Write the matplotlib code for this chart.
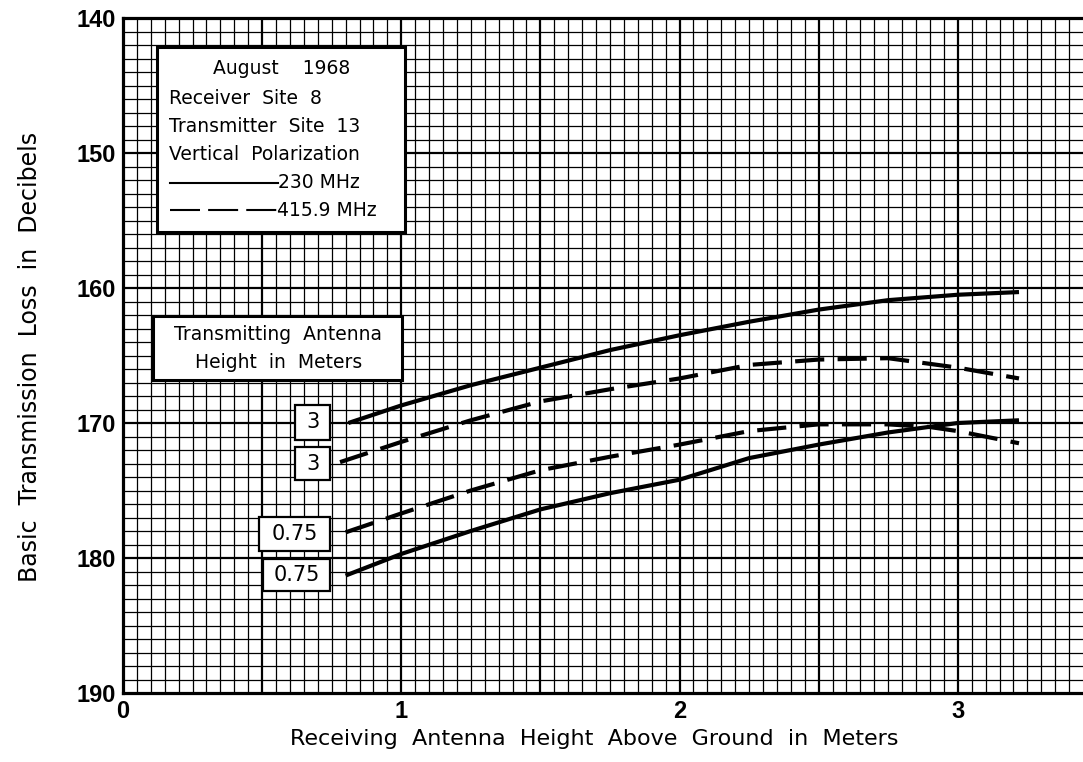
import matplotlib.pyplot as plt
import numpy as np

# Receiving antenna height (m) and basic transmission loss (dB)
x_230_3 = [0.81, 1.0, 1.25, 1.5, 1.75, 2.0, 2.25, 2.5, 2.75, 3.0, 3.22]
y_230_3 = [170.0, 168.7, 167.2, 165.9, 164.6, 163.5, 162.5, 161.6, 160.9, 160.5, 160.3]

x_416_3 = [0.78, 1.0, 1.25, 1.5, 1.75, 2.0, 2.25, 2.5, 2.75, 3.0, 3.22]
y_416_3 = [172.9, 171.4, 169.8, 168.4, 167.5, 166.7, 165.7, 165.3, 165.2, 165.9, 166.7]

x_416_075 = [0.80, 1.0, 1.25, 1.5, 1.75, 2.0, 2.25, 2.5, 2.75, 2.9, 3.0, 3.22]
y_416_075 = [178.1, 176.7, 175.0, 173.5, 172.5, 171.6, 170.6, 170.1, 170.1, 170.3, 170.6, 171.5]

x_230_075 = [0.80, 1.0, 1.25, 1.5, 1.75, 2.0, 2.25, 2.5, 2.75, 3.0, 3.22]
y_230_075 = [181.3, 179.7, 178.0, 176.4, 175.2, 174.2, 172.6, 171.6, 170.7, 170.0, 169.8]

info_lines = ["Receiver  Site  8", "Transmitter  Site  13", "Vertical  Polarization"]
height_labels = ["3", "3", "0.75", "0.75"]

plt.rcParams['font.family'] = ['DejaVu Sans']

W, H = 1083, 762
fig = plt.figure(figsize=(W / 100, H / 100), dpi=100)
ax = fig.add_axes([123 / W, 1 - 693 / H, 1 - 123 / W, (693 - 18) / H])

ax.set_xlim(0, 3.45)
ax.set_ylim(190, 140)

# graph-paper grid
for xv in np.arange(0.05, 3.45, 0.05):
    major = abs(xv / 0.5 - round(xv / 0.5)) < 1e-6
    ax.axvline(xv, color='black', lw=1.6 if major else 0.9, zorder=1)
for yv in range(141, 190):
    ax.axhline(yv, color='black', lw=1.6 if yv % 10 == 0 else 0.9, zorder=1)

ax.plot(x_230_3, y_230_3, color='black', lw=3.0, solid_capstyle='butt', zorder=3)
ax.plot(x_230_075, y_230_075, color='black', lw=3.0, solid_capstyle='butt', zorder=3)
ax.plot(x_416_3, y_416_3, color='black', lw=3.0, dashes=(7, 3.2), zorder=3)
ax.plot(x_416_075, y_416_075, color='black', lw=3.0, dashes=(7, 3.2), zorder=3)

ax.spines['right'].set_visible(False)
for s in ['left', 'top', 'bottom']:
    ax.spines[s].set_linewidth(2.3)

ax.set_xticks([0, 1, 2, 3])
ax.set_yticks([140, 150, 160, 170, 180, 190])
ax.tick_params(length=0, pad=5)
for lab in ax.get_xticklabels() + ax.get_yticklabels():
    lab.set_family(['Liberation Sans Narrow', 'Liberation Sans'])
    lab.set_fontweight('bold')
    lab.set_fontsize(17)

fig.text(594 / W, 1 - 739 / H, 'Receiving  Antenna  Height  Above  Ground  in  Meters',
         fontsize=16, ha='center', va='center')
fig.text(30 / W, 1 - 357 / H, 'Basic  Transmission  Loss  in  Decibels',
         fontsize=17, ha='center', va='center', rotation=90)

px2x = lambda px: (px - 123) / 278
py2y = lambda py: 140 + (py - 18) / 13.5


def box(x0, y0, x1, y1, lw):
    ax.add_patch(plt.Rectangle((px2x(x0), py2y(y1)), px2x(x1) - px2x(x0),
                               py2y(y0) - py2y(y1), facecolor='white',
                               edgecolor='black', lw=lw, zorder=4))


# info box
box(157, 47, 405, 232, 2.2)
ax.text(px2x(281), py2y(69), 'August    1968', fontsize=13.5, ha='center', va='center', zorder=5)
for i, t in enumerate(info_lines):
    ax.text(px2x(169), py2y(98 + 28.5 * i), t, fontsize=13.5, ha='left', va='center', zorder=5)
ax.plot([px2x(170), px2x(278)], [py2y(183)] * 2, color='black', lw=1.5, zorder=5)
ax.text(px2x(278), py2y(183), '230 MHz', fontsize=13.5, ha='left', va='center', zorder=5)
ax.plot([px2x(170), px2x(277)], [py2y(210)] * 2, color='black', lw=1.5,
        dashes=(14.4, 3.9), zorder=5)
ax.text(px2x(277), py2y(210), '415.9 MHz', fontsize=13.5, ha='left', va='center', zorder=5)

# antenna height box
box(153, 316, 402, 380, 2.2)
ax.text(px2x(278), py2y(334), 'Transmitting  Antenna', fontsize=13.5, ha='center', va='center', zorder=5)
ax.text(px2x(278), py2y(362), 'Height  in  Meters', fontsize=13.5, ha='center', va='center', zorder=5)

# curve labels
label_boxes = [(295, 405, 330, 440), (295, 447, 330, 480), (259, 517, 330, 551), (263, 559, 330, 591)]
for t, (x0, y0, x1, y1) in zip(height_labels, label_boxes):
    box(x0, y0, x1, y1, 1.6)
    ax.text(px2x((x0 + x1) / 2), py2y((y0 + y1) / 2), t, fontsize=15,
            ha='center', va='center', zorder=5)

fig.savefig('out.png', dpi=100)
